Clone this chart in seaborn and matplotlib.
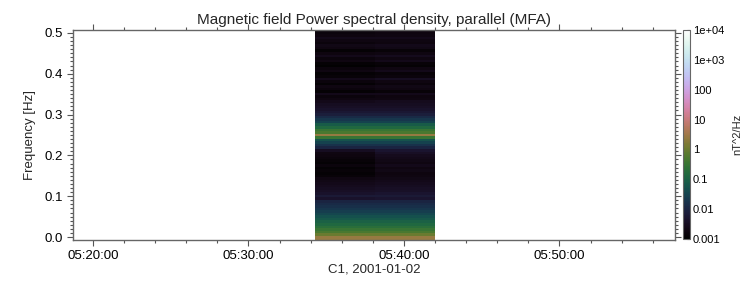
import numpy as np
import pandas as pd
import matplotlib
matplotlib.use("Agg")
import matplotlib.pyplot as plt
import matplotlib.dates as mdates
from matplotlib.colors import LogNorm
import seaborn as sns

sns.set_style("ticks")
plt.rcParams["font.family"] = ["Liberation Sans", "DejaVu Sans"]

# frequency bins [Hz] and time bin edges of the spectrogram
freq = np.arange(81) * 0.00625
day = "2001-01-02"
time_edges = pd.to_datetime([day + " 05:34:17", day + " 05:38:08", day + " 05:42:00"])

# log10 of PSD [nT^2/Hz] per frequency bin, first and second time column
psd_left = [
    0.4, 0.0, -0.3, -0.5, -0.7, -0.85, -1.0, -1.15, -1.3, -1.45,
    -1.6, -1.7, -1.8, -1.9, -2.0, -2.35, -2.2, -2.35, -2.45, -2.5,
    -2.55, -2.6, -2.65, -2.7, -2.85, -2.9, -2.85, -2.9, -2.8, -2.9,
    -2.85, -2.8, -2.75, -2.7, -2.5, -2.0, -1.75, -1.5, -1.25, -0.5,
    0.4, -0.3, -0.5, -0.85, -1.1, -1.5, -1.7, -1.9, -2.1, -2.25,
    -2.35, -2.45, -2.5,
    -2.6, -2.7, -2.8, -2.6, -2.9, -2.8, -2.7, -2.9, -2.8, -2.6,
    -2.85, -2.9, -2.7, -2.8, -2.95, -2.9, -2.7, -2.8, -2.6, -2.75,
    -2.9, -2.7, -2.65, -2.8, -2.7, -2.6, -2.75, -2.8,
]
psd_right = [
    0.4, 0.0, -0.3, -0.5, -0.7, -0.85, -1.0, -1.15, -1.3, -1.45,
    -1.6, -1.7, -1.8, -1.9, -2.0, -2.3, -2.2, -2.3, -2.4, -2.45,
    -2.5, -2.55, -2.6, -2.65, -2.7, -2.75, -2.65, -2.7, -2.6, -2.7,
    -2.65, -2.6, -2.55, -2.45, -2.3, -2.0, -1.75, -1.5, -1.25, -0.5,
    0.4, -0.3, -0.5, -0.85, -1.1, -1.5, -1.7, -1.9, -2.1, -2.25,
    -2.35, -2.45, -2.5,
    -2.55, -2.7, -2.75, -2.6, -2.85, -2.7, -2.65, -2.8, -2.7, -2.5,
    -2.8, -2.85, -2.6, -2.7, -2.9, -2.85, -2.6, -2.7, -2.55, -2.7,
    -2.85, -2.65, -2.6, -2.75, -2.7, -2.6, -2.7, -2.75,
]

cbar_ticks = [1e-3, 1e-2, 1e-1, 1, 10, 100, 1e3, 1e4]
cbar_labels = ["0.001", "0.01", "0.1", "1", "10", "100", "1e+03", "1e+04"]

ylim = (-0.006, 0.507)
xlim = pd.to_datetime([day + " 05:18:43", day + " 05:57:26"])

psd = 10 ** np.column_stack([psd_left, psd_right])

# edges between bins, outer ones stretched to the axis limits
f_edges = np.concatenate([[ylim[0]], (freq[:-1] + freq[1:]) / 2, [ylim[1]]])

fig = plt.figure(figsize=(7.5, 3), dpi=100)
ax = fig.add_axes([73 / 750, 60.5 / 300, 602 / 750, 209.5 / 300])
cax = fig.add_axes([683 / 750, 61 / 300, 7 / 750, 209 / 300])

cmap = sns.color_palette("cubehelix", as_cmap=True)
norm = LogNorm(vmin=1e-3, vmax=1e4)
mesh = ax.pcolormesh(mdates.date2num(time_edges), f_edges, psd, cmap=cmap, norm=norm,
                     shading="flat", rasterized=True)

ax.set_xlim(mdates.date2num(xlim))
ax.set_ylim(ylim)
ax.xaxis.set_major_locator(mdates.MinuteLocator(byminute=range(0, 60, 10)))
ax.xaxis.set_minor_locator(mdates.MinuteLocator(byminute=range(0, 60, 2)))
ax.xaxis.set_major_formatter(mdates.DateFormatter("%H:%M:%S"))
ax.set_yticks(np.arange(0, 0.51, 0.1))
ax.set_yticks(np.arange(0, 0.505, 0.01), minor=True)
ax.yaxis.set_major_formatter(matplotlib.ticker.FormatStrFormatter("%.1f"))

ax.tick_params(which="both", direction="out", top=True, right=True, colors="#555555",
               labelcolor="black", labelsize=9.5, width=0.8)
ax.tick_params(which="major", length=4)
ax.tick_params(which="minor", length=2)
for s in ax.spines.values():
    s.set_color("#666666")
    s.set_linewidth(1.0)

ax.set_title("Magnetic field Power spectral density, parallel (MFA)", fontsize=11, pad=4)
ax.set_ylabel("Frequency [Hz]", fontsize=9.5, labelpad=6)
ax.set_xlabel("C1, " + day, fontsize=9.5, labelpad=1)

cb = fig.colorbar(mesh, cax=cax)
cb.set_ticks(cbar_ticks)
cb.set_ticklabels(cbar_labels)
cb.minorticks_off()
cb.ax.tick_params(labelsize=8, length=2, width=0.8, direction="in", colors="#333333",
                  labelcolor="black", pad=2)
cb.outline.set_edgecolor("#666666")
cb.outline.set_linewidth(0.8)
cb.set_label("nT^2/Hz", fontsize=8, labelpad=6)

fig.savefig("out.png", dpi=100)
